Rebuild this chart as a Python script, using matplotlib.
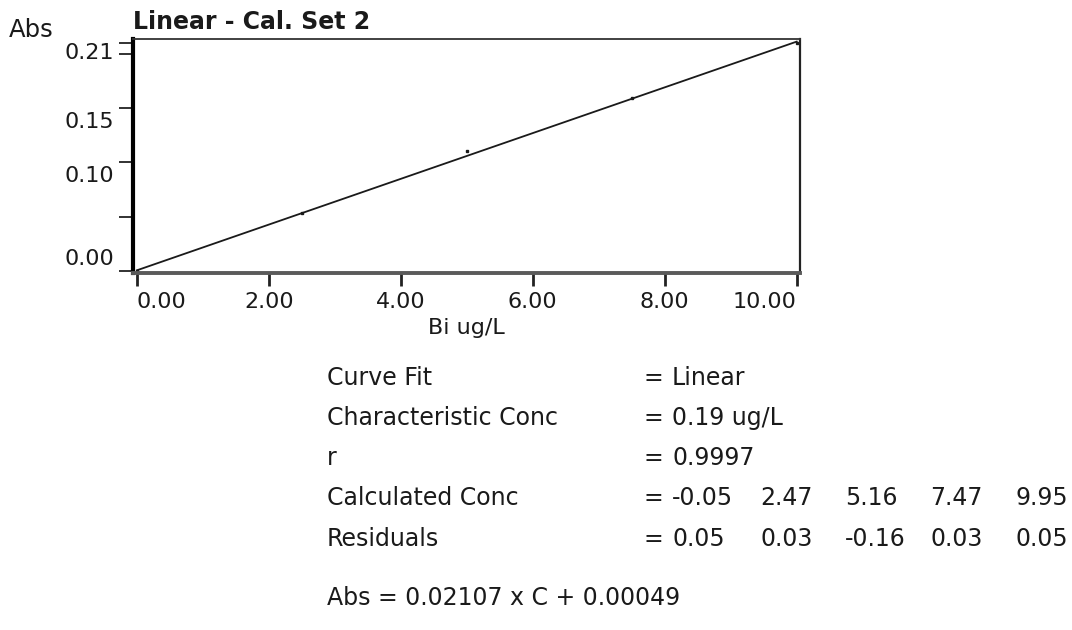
import matplotlib
matplotlib.use("Agg")

import matplotlib.pyplot as plt
import matplotlib.transforms as mtransforms

std_conc = [0.0, 2.5, 5.0, 7.5, 10.0]
std_abs = [0.0, 0.053, 0.110, 0.159, 0.210]

# Fitted calibration line end points
fit_x = [0.0, 10.0]
fit_y = [0.00049, 0.2112]

x_ticks = [0.0, 2.0, 4.0, 6.0, 8.0, 10.0]
x_labels = ["0.00", "2.00", "4.00", "6.00", "8.00", "10.00"]
y_ticks = [0.0, 0.05, 0.10, 0.15, 0.20, 0.21]
y_label_vals = [0.0, 0.10, 0.15, 0.21]
y_label_txt = ["0.00", "0.10", "0.15", "0.21"]

# Summary table
calc_conc = ["-0.05", "2.47", "5.16", "7.47", "9.95"]
residuals = ["0.05", "0.03", "-0.16", "0.03", "0.05"]
fit_rows = [
    ("Curve Fit", "Linear"),
    ("Characteristic Conc", "0.19 ug/L"),
    ("r", "0.9997"),
]
equation = "Abs = 0.02107 x C + 0.00049"

W, H = 1072, 630
FS = 16          # tick labels
FS_TXT = 17      # summary block
INK = "#1a1a1a"

# the scan is stretched sideways, so the wider DejaVu Sans fits it best
plt.rcParams["font.family"] = ["DejaVu Sans"]

fig = plt.figure(figsize=(W / 100, H / 100), dpi=100, facecolor="white")


def px(x, y):
    return x / W, 1 - y / H


# axes box in pixels: left 133, right 800, top 39, bottom 273
ax = fig.add_axes([133 / W, 1 - 273 / H, (800 - 133) / W, (273 - 39) / H])
ax.set_xlim(-0.06, 10.05)
ax.set_ylim(-0.002, 0.2136)

ax.plot(fit_x, fit_y, color=INK, lw=1.3)
ax.plot(std_conc, std_abs, linestyle="none", marker="s", ms=2, color=INK)

for side, lw, col in [("left", 3.0, "black"), ("bottom", 2.8, "#5a5a5a"),
                      ("top", 1.3, "#333333"), ("right", 1.6, "#222222")]:
    ax.spines[side].set_linewidth(lw)
    ax.spines[side].set_color(col)

ax.set_xticks(x_ticks)
ax.set_xticklabels(x_labels, fontsize=FS, color=INK)
labels = ax.get_xticklabels()
labels[0].set_ha("left")
labels[-1].set_ha("right")
ax.tick_params(axis="x", direction="out", length=9, width=2, pad=5,
               color="#222222")

ax.set_yticks(y_ticks)
ax.set_yticklabels([])
ax.tick_params(axis="y", direction="out", length=10, width=1.3, color="#222222")

# y tick labels sit off their ticks, as on the instrument printout
y_offsets = [12, -14, -14, -10]
for val, txt, dy in zip(y_label_vals, y_label_txt, y_offsets):
    tr = ax.get_yaxis_transform() + mtransforms.ScaledTranslation(
        -19 / 100, dy / 100, fig.dpi_scale_trans)
    ax.text(0, val, txt, transform=tr, ha="right", va="center",
            fontsize=FS, color=INK)

ax.set_xlabel("Bi ug/L", fontsize=FS, color=INK, labelpad=4)

fig.text(*px(9, 30), "Abs", fontsize=17.5, color=INK, va="center", ha="left")
fig.text(*px(133, 22), "Linear - Cal. Set 2", fontsize=17, fontweight="bold",
         color=INK, va="center", ha="left")

# Summary block
row_y = [378, 418, 458, 498, 539]
for (name, val), y in zip(fit_rows, row_y[:3]):
    fig.text(*px(327, y), name, fontsize=FS_TXT, color=INK, va="center")
    fig.text(*px(643, y), "=", fontsize=FS_TXT, color=INK, va="center")
    fig.text(*px(672, y), val, fontsize=FS_TXT, color=INK, va="center")

col_x = [672, 760, 845, 930, 1015]
for name, vals, y in [("Calculated Conc", calc_conc, row_y[3]),
                      ("Residuals", residuals, row_y[4])]:
    fig.text(*px(327, y), name, fontsize=FS_TXT, color=INK, va="center")
    fig.text(*px(643, y), "=", fontsize=FS_TXT, color=INK, va="center")
    for v, x in zip(vals, col_x):
        fig.text(*px(x, y), v, fontsize=FS_TXT, color=INK, va="center")

fig.text(*px(327, 598), equation, fontsize=FS_TXT, color=INK, va="center")

fig.savefig("out.png", dpi=100, facecolor="white")
